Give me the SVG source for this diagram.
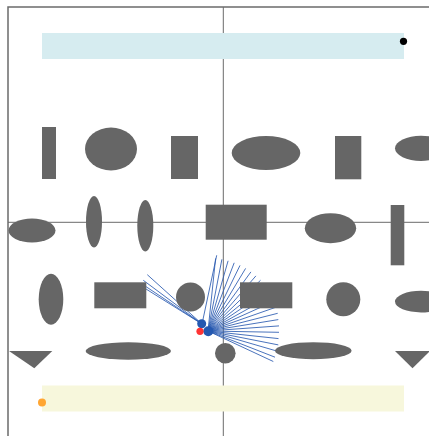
<svg xmlns="http://www.w3.org/2000/svg" width="429" height="436" viewBox="0 0 429 436">
<style>
.frame{fill:none;stroke:#6b6b6b;stroke-width:1.5}
.axis{stroke:#6b6b6b;stroke-width:1}
.shape{fill:#666666}
.fan line{stroke:#2a5ab0;stroke-width:1;stroke-opacity:0.85}
</style>
<rect width="429" height="436" fill="#ffffff"/>
<rect class="frame" x="8" y="7" width="500" height="500"/>
<line class="axis" x1="223.3" y1="7" x2="223.3" y2="436"/>
<line class="axis" x1="8" y1="222.3" x2="429" y2="222.3"/>
<g id="band-top"><rect x="42" y="33" width="362" height="26" fill="#d6ecf0"/></g>
<g id="band-bottom"><rect x="42" y="385.5" width="362" height="26" fill="#f7f7dc"/></g>
<g id="dot-black"><circle cx="403.5" cy="41.3" r="3.6" fill="#000"/></g>
<g id="dot-orange"><circle cx="42" cy="402.5" r="4" fill="#ffa633"/></g>
<g id="connectors" class="fan">
<line x1="202" y1="324" x2="147.3" y2="274.7"/>
<line x1="202" y1="324" x2="143.3" y2="280.3"/>
<line x1="202" y1="324" x2="144" y2="285.3"/>
<line x1="202" y1="324" x2="146" y2="289"/>
<line x1="202" y1="324" x2="216.7" y2="255.3"/>
<line x1="208" y1="331" x2="215.6" y2="258.4"/>
<line x1="208" y1="331" x2="221.9" y2="259.3"/>
<line x1="208" y1="331" x2="228.1" y2="260.8"/>
<line x1="208" y1="331" x2="234.2" y2="262.8"/>
<line x1="208" y1="331" x2="240" y2="265.4"/>
<line x1="208" y1="331" x2="245.6" y2="268.4"/>
<line x1="208" y1="331" x2="250.9" y2="271.9"/>
<line x1="208" y1="331" x2="255.9" y2="275.9"/>
<line x1="208" y1="331" x2="260.5" y2="280.3"/>
<line x1="208" y1="331" x2="264.7" y2="285.1"/>
<line x1="208" y1="331" x2="268.5" y2="290.2"/>
<line x1="208" y1="331" x2="271.8" y2="295.6"/>
<line x1="208" y1="331" x2="274" y2="301.3"/>
<line x1="208" y1="331" x2="276" y2="307.2"/>
<line x1="208" y1="331" x2="277.7" y2="313.3"/>
<line x1="208" y1="331" x2="278.3" y2="319.6"/>
<line x1="208" y1="331" x2="279" y2="325.9"/>
<line x1="208" y1="331" x2="279" y2="332.3"/>
<line x1="208" y1="331" x2="278.5" y2="338.6"/>
<line x1="208" y1="331" x2="278.3" y2="344.9"/>
<line x1="208" y1="331" x2="277" y2="351.1"/>
<line x1="208" y1="331" x2="275" y2="357.2"/>
<line x1="208" y1="331" x2="273.3" y2="361.5"/>
</g>
<g id="r1a"><rect class="shape" x="42" y="127" width="14" height="52"/></g>
<g id="r1b"><ellipse class="shape" cx="111" cy="149" rx="26" ry="21.5"/></g>
<g id="r1c"><rect class="shape" x="171" y="136" width="27" height="43"/></g>
<g id="r1d"><ellipse class="shape" cx="266" cy="153" rx="34.3" ry="17"/></g>
<g id="r1e"><rect class="shape" x="335" y="136" width="26.3" height="43.3"/></g>
<g id="r1f"><ellipse class="shape" cx="421" cy="148.3" rx="26" ry="12.6"/></g>
<g id="r2a"><ellipse class="shape" cx="32" cy="230.5" rx="23.5" ry="12"/></g>
<g id="r2b"><ellipse class="shape" cx="94" cy="221.7" rx="8" ry="25.7"/></g>
<g id="r2c"><ellipse class="shape" cx="145.3" cy="225.7" rx="8" ry="25.7"/></g>
<g id="r2d"><rect class="shape" x="205.7" y="204.7" width="61" height="35"/></g>
<g id="r2e"><ellipse class="shape" cx="330.5" cy="228.2" rx="25.7" ry="15"/></g>
<g id="r2f"><rect class="shape" x="390.7" y="205" width="13.6" height="60.3"/></g>
<g id="r3a"><ellipse class="shape" cx="51" cy="299.2" rx="12.3" ry="25.5"/></g>
<g id="r3b"><rect class="shape" x="94.3" y="282.3" width="52" height="26"/></g>
<g id="r3c"><circle class="shape" cx="190.5" cy="297" r="14.5"/></g>
<g id="r3d"><rect class="shape" x="240" y="282.3" width="52.3" height="26"/></g>
<g id="r3e"><circle class="shape" cx="343.3" cy="299.3" r="17"/></g>
<g id="r3f"><ellipse class="shape" cx="421" cy="301.6" rx="26" ry="10.8"/></g>
<g id="r4a"><polygon class="shape" points="9,351 52.3,351 34.3,368.3"/></g>
<g id="r4b"><ellipse class="shape" cx="128.3" cy="351" rx="42.7" ry="8.7"/></g>
<g id="r4c"><circle class="shape" cx="225.3" cy="353.3" r="10.3"/></g>
<g id="r4d"><ellipse class="shape" cx="313.3" cy="350.7" rx="38.3" ry="8.5"/></g>
<g id="r4e"><polygon class="shape" points="395,351 430,351 412.5,368.3"/></g>
<g id="hub-a"><circle cx="201.7" cy="323.7" r="4.5" fill="#2458b0"/></g>
<g id="hub-b"><circle cx="208.3" cy="331.3" r="5" fill="#2458b0"/></g>
<g id="hub-red"><circle cx="200" cy="331.3" r="3.6" fill="#ff3333"/></g>
</svg>
